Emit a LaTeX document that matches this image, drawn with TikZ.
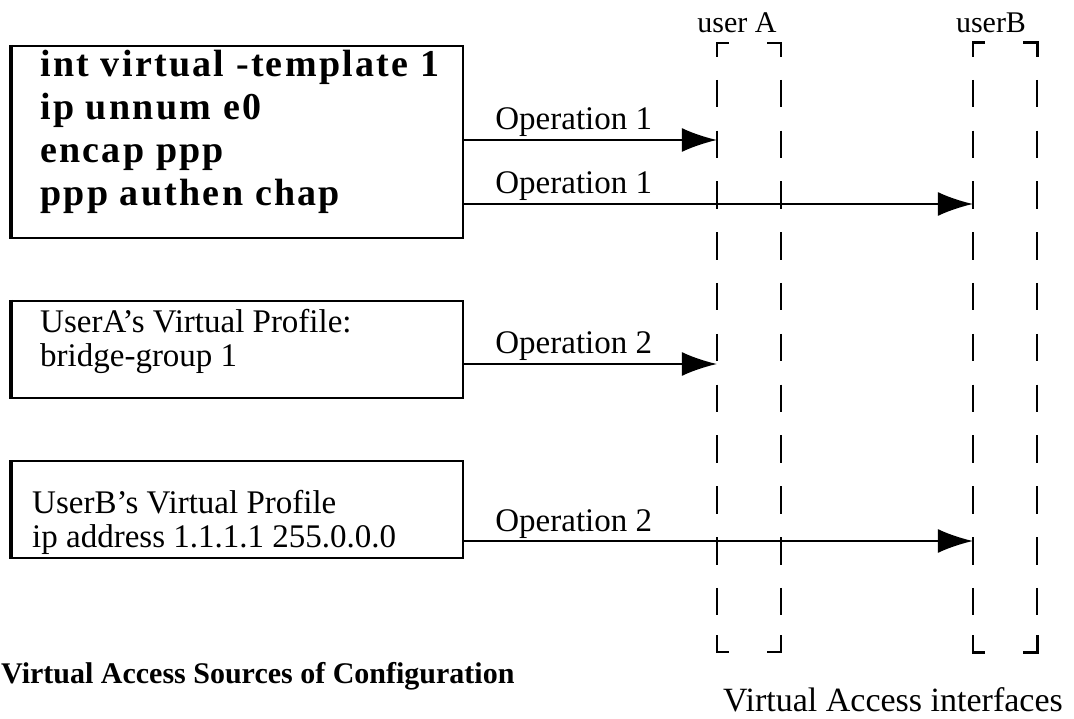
\documentclass[tikz,border=0pt]{standalone}
\usepackage{fontspec}
\setmainfont{Liberation Serif}
\usetikzlibrary{arrows.meta}
\usetikzlibrary{positioning}

\begin{document}
\begin{tikzpicture}[x=1pt, y=-1pt,
	cfgbox/.style={draw, line width=1.6pt, minimum width=452pt, inner sep=0pt, anchor=north west},
	cmdtxt/.style={anchor=north west, inner sep=0pt, align=left, font=\bfseries\fontsize{38}{43}\selectfont\addfontfeature{LetterSpace=6}},
	cfgtxt/.style={anchor=north west, inner sep=0pt, align=left, font=\fontsize{33}{34}\selectfont},
	op/.style={line width=1.6pt, -{Latex[length=35pt,width=24pt]}},
	oplbl/.style={anchor=base west, inner sep=0pt, xshift=31pt, yshift=10pt, font=\fontsize{33}{36}\selectfont},
	vacol/.style={minimum width=64pt, minimum height=609pt, inner sep=0pt},
	colline/.style={line width=1.6pt, dash pattern=on 27.5pt off 23.3pt},
	usrlbl/.style={anchor=base, inner sep=0pt, font=\fontsize{30}{30}\selectfont}]
	 		\useasboundingbox (0,0) rectangle (1074,719);
	 		\node[cfgbox, minimum height=192pt] (tmpl) at (10,45) {};
	 		\node[cfgbox, minimum height=97pt] (profA) at (10,300) {};
	 		\node[cfgbox, minimum height=97pt] (profB) at (10,460) {};
	 		\foreach \b in {tmpl,profA,profB}
	 			\draw[line width=3.5pt] ([xshift=1pt]\b.north west) -- ([xshift=1pt]\b.south west);
	 		\node[cmdtxt] (tmpltxt) at (40,50) {int virtual -template 1\\ip unnum e0\\encap ppp\\ppp authen chap};
	 		\node[cfgtxt] (proftxtA) at (40,309) {UserA's Virtual Profile:\\bridge-group 1};
	 		\node[cfgtxt] (proftxtB) at (32,490) {UserB's Virtual Profile\\ip address 1.1.1.1 255.0.0.0};
	 		\node[vacol] (userA) at (749,347.5) {};
	 		\node[vacol] (userB) at (1005,347.5) {};
	 		\node[usrlbl] (lblA) at ([xshift=-12pt,yshift=10pt]userA.north) {user A};
	 		\node[usrlbl] (lblB) at ([xshift=-14pt,yshift=10pt]userB.north) {userB};
	 		\foreach \c/\w in {userA/1.6pt,userB/2.6pt}{
	 			\draw[colline] ([yshift=-37pt]\c.north west) -- ([yshift=37pt]\c.south west);
	 			\draw[colline] ([yshift=-37pt]\c.north east) -- ([yshift=37pt]\c.south east);
	 			\draw[line width=\w] ([yshift=-14pt]\c.north west) -- (\c.north west) -- ++(12pt,0);
	 			\draw[line width=\w] ([yshift=-14pt]\c.north east) -- (\c.north east) -- ++(-14pt,0);
	 			\draw[line width=\w] ([yshift=17pt]\c.south west) -- (\c.south west) -- ++(12pt,0);
	 			\draw[line width=\w] ([yshift=17pt]\c.south east) -- (\c.south east) -- ++(-14pt,0);
	 		}
	 		\coordinate (opA1) at (userA.west |- 0,140);
	 		\coordinate (opB1) at (userB.west |- 0,204);
	 		\coordinate (opA2) at (userA.west |- 0,364);
	 		\coordinate (opB2) at (userB.west |- 0,541);
	 		\draw[op] (tmpl.east |- opA1) node[oplbl] {Operation 1} -- (opA1);
	 		\draw[op] (tmpl.east |- opB1) node[oplbl] {Operation 1} -- (opB1);
	 		\draw[op] (profA.east |- opA2) node[oplbl] {Operation 2} -- (opA2);
	 		\draw[op] (profB.east |- opB2) node[oplbl] {Operation 2} -- (opB2);
	 		\node[anchor=base west, inner sep=0pt, font=\bfseries\fontsize{30}{30}\selectfont] (srccap) at (1,683) {Virtual Access Sources of Configuration};
	 		\node[anchor=base, inner sep=0pt, font=\fontsize{34}{34}\selectfont] (vaif) at (893,711) {Virtual Access interfaces};
	 	\end{tikzpicture}
\end{document}
